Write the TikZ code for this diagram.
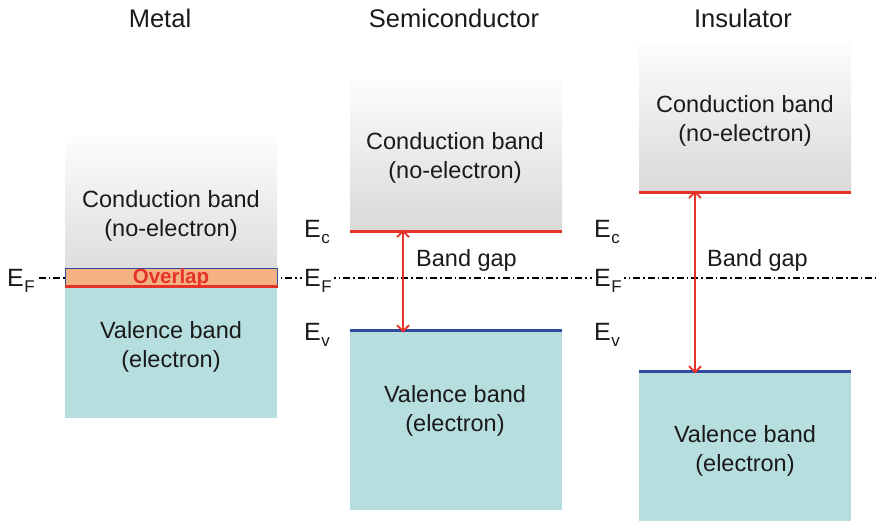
\documentclass[tikz,border=0pt]{standalone}
\usepackage{fontspec}
\setmainfont{Liberation Sans}
\usetikzlibrary{arrows.meta,positioning}
\definecolor{valfill}{HTML}{B7DEDF}
\definecolor{overfill}{HTML}{F4B183}
\definecolor{edgered}{HTML}{E5332A}
\definecolor{edgeblue}{HTML}{2F4A9F}
\definecolor{darktext}{HTML}{1A1A1A}
\newcommand{\elev}[1]{E\kern0.5pt\raisebox{-6pt}{\fontsize{17}{17}\selectfont #1}}
\tikzset{
  condbox/.style={shading=axis,top color=black!1,bottom color=black!15,draw=none,minimum width=212pt,inner sep=0pt},
  valbox/.style={fill=valfill,draw=none,minimum width=212pt,inner sep=0pt},
  overbox/.style={fill=overfill,draw=edgeblue,line width=1pt,minimum width=212pt,minimum height=19pt,inner sep=0pt},
  cedge/.style={edgered,line width=3pt},
  vedge/.style={edgeblue,line width=3pt},
  gaparrow/.style={{Straight Barb[length=6pt,width=12pt]}-{Straight Barb[length=6pt,width=12pt]},edgered,line width=1.8pt},
  fermiline/.style={black,line width=1.4pt,dash pattern=on 7pt off 3pt on 1.5pt off 3pt},
  bandtext/.style={align=center,font=\fontsize{23.5}{29}\selectfont,text=darktext},
  title/.style={font=\fontsize{25.5}{28}\selectfont,text=darktext,anchor=base},
  elabel/.style={font=\fontsize{25}{27}\selectfont,text=darktext,inner sep=0pt},
  gaplabel/.style={font=\fontsize{23.5}{27}\selectfont,text=darktext,inner sep=0pt}
}
\begin{document}
\begin{tikzpicture}[x=1pt,y=-1pt]
  \useasboundingbox (0,0) rectangle (876,521);

  % titles
  \node[title] (tmetal) at (160,28) {Metal};
  \node[title] (tsemi) at (454,28) {Semiconductor};
  \node[title] (tins) at (743,28) {Insulator};

  % Fermi level, drawn first so the bands cover it
  \node[elabel,anchor=base west] (mef) at (7,287) {\elev{F}};
  \coordinate (efend) at (876,278);
  \draw[fermiline] ([xshift=4pt]mef.east |- efend) -- (efend);

  % Metal
  \node[condbox,minimum height=150pt,anchor=north west] (mcond) at (65,137) {};
  \node[valbox,minimum height=130pt,anchor=north west] (mval) at (65,288) {};
  \node[overbox,anchor=north west] (mover) at (65,268) {};
  \draw[cedge] ([yshift=1pt]mover.south west) -- ([yshift=1pt]mover.south east);
  \node[font=\fontsize{20.5}{22}\selectfont\bfseries,text=edgered,anchor=base] (overlap) at (171,283.5) {Overlap};
  \node[bandtext] (mcondtext) at (171,216) {Conduction band\\(no-electron)};
  \node[bandtext] (mvaltext) at (171,347) {Valence band\\(electron)};

  % Semiconductor
  \node[condbox,minimum height=151pt,anchor=north west] (scond) at (350,80) {};
  \node[valbox,minimum height=179pt,anchor=north west] (sval) at (350,331) {};
  \draw[cedge] (scond.south west) -- (scond.south east);
  \draw[vedge] (sval.north west) -- (sval.north east);
  \node[bandtext] (scondtext) at (455,158) {Conduction band\\(no-electron)};
  \node[bandtext] (svaltext) at (455,411) {Valence band\\(electron)};
  \draw[gaparrow] ([xshift=53pt,yshift=1.5pt]scond.south west) -- ([xshift=53pt,yshift=-1.5pt]sval.north west);
  \node[gaplabel,anchor=base west] (sgap) at (416,267) {Band gap};
  \node[elabel,anchor=base west] (sec) at (304,238) {\elev{c}};
  \node[elabel,anchor=base west,fill=white,inner xsep=2pt] (sef) at (302,287) {\elev{F}};
  \node[elabel,anchor=base west] (sev) at (304,341) {\elev{v}};

  % Insulator
  \node[condbox,minimum height=150pt,anchor=north west] (icond) at (639,42) {};
  \node[valbox,minimum height=149pt,anchor=north west] (ival) at (639,372) {};
  \draw[cedge] (icond.south west) -- (icond.south east);
  \draw[vedge] (ival.north west) -- (ival.north east);
  \node[bandtext] (icondtext) at (745,121) {Conduction band\\(no-electron)};
  \node[bandtext] (ivaltext) at (745,451) {Valence band\\(electron)};
  \draw[gaparrow] ([xshift=56pt,yshift=1.5pt]icond.south west) -- ([xshift=56pt,yshift=-1.5pt]ival.north west);
  \node[gaplabel,anchor=base west] (igap) at (707,267) {Band gap};
  \node[elabel,anchor=base west] (iec) at (594,238) {\elev{c}};
  \node[elabel,anchor=base west,fill=white,inner xsep=2pt] (ief) at (592,287) {\elev{F}};
  \node[elabel,anchor=base west] (iev) at (594,341) {\elev{v}};
\end{tikzpicture}
\end{document}
